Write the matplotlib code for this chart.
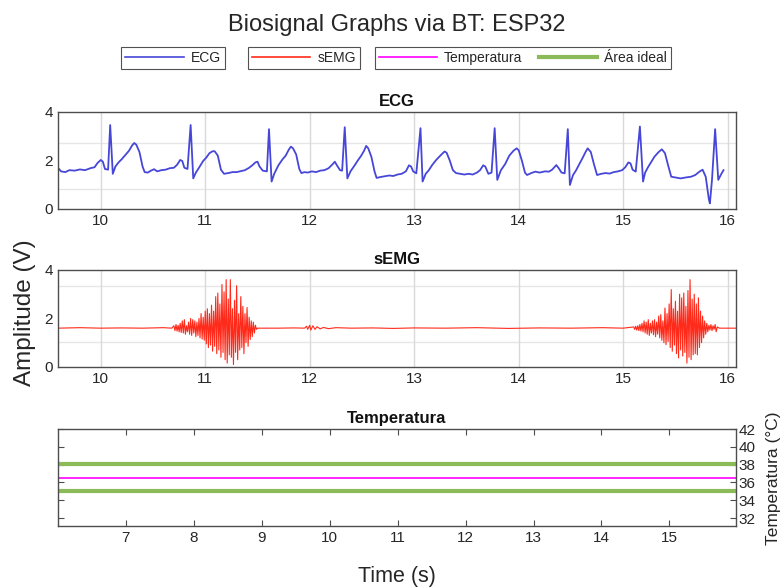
import matplotlib
matplotlib.use("Agg")
import matplotlib.pyplot as plt

plt.rcParams['font.family'] = ['Liberation Sans', 'DejaVu Sans']

# ECG signal (s, V)
ecg_t = [9.59, 9.62, 9.66, 9.70, 9.75, 9.80, 9.85, 9.90, 9.94, 9.97, 10.00, 10.02, 10.04, 10.07, 10.09,
         10.115, 10.14, 10.17, 10.20, 10.23, 10.27, 10.30, 10.32, 10.34, 10.37, 10.40, 10.42, 10.45, 10.48,
         10.51, 10.54, 10.58, 10.62, 10.66, 10.70, 10.73, 10.76, 10.78, 10.80, 10.83, 10.86, 10.885, 10.91,
         10.94, 10.98, 11.01, 11.04, 11.07, 11.09, 11.12, 11.15, 11.18, 11.22, 11.26, 11.30, 11.34, 11.38,
         11.42, 11.45, 11.48, 11.50, 11.52, 11.55, 11.59, 11.61, 11.635, 11.66, 11.70, 11.74, 11.77, 11.80,
         11.82, 11.84, 11.87, 11.90, 11.92, 11.95, 11.98, 12.02, 12.06, 12.10, 12.14, 12.18, 12.22, 12.24,
         12.26, 12.29, 12.31, 12.335, 12.36, 12.39, 12.43, 12.46, 12.49, 12.52, 12.54, 12.56, 12.59, 12.62,
         12.64, 12.68, 12.72, 12.76, 12.80, 12.84, 12.88, 12.92, 12.95, 12.97, 12.99, 13.02, 13.06, 13.08,
         13.11, 13.14, 13.17, 13.21, 13.25, 13.29, 13.31, 13.34, 13.37, 13.40, 13.44, 13.48, 13.52, 13.56,
         13.60, 13.63, 13.66, 13.68, 13.71, 13.74, 13.77, 13.795, 13.83, 13.87, 13.91, 13.95, 13.98, 14.00,
         14.03, 14.06, 14.08, 14.12, 14.16, 14.20, 14.25, 14.29, 14.32, 14.36, 14.38, 14.41, 14.44, 14.47,
         14.49, 14.52, 14.55, 14.58, 14.61, 14.64, 14.66, 14.69, 14.72, 14.75, 14.79, 14.83, 14.87, 14.91,
         14.95, 14.99, 15.02, 15.05, 15.07, 15.09, 15.12, 15.16, 15.19, 15.21, 15.24, 15.27, 15.30, 15.34,
         15.37, 15.40, 15.43, 15.46, 15.50, 15.55, 15.60, 15.65, 15.69, 15.73, 15.76, 15.79, 15.82, 15.83,
         15.85, 15.88, 15.91, 15.94, 15.96]
ecg_v = [1.70, 1.55, 1.52, 1.60, 1.58, 1.63, 1.60, 1.68, 1.72, 1.90, 2.02, 1.95, 1.65, 1.62, 3.46,
         1.45, 1.75, 1.92, 2.05, 2.20, 2.40, 2.62, 2.72, 2.65, 2.35, 1.75, 1.52, 1.50, 1.58,
         1.64, 1.55, 1.60, 1.62, 1.68, 1.70, 1.82, 2.02, 1.98, 1.70, 1.65, 3.46, 1.26, 1.50,
         1.70, 1.98, 2.12, 2.30, 2.38, 2.38, 2.20, 1.62, 1.45, 1.48, 1.52, 1.52, 1.56, 1.60,
         1.70, 1.80, 1.92, 1.95, 1.75, 1.58, 1.55, 3.29, 1.13, 1.45, 1.80, 2.05, 2.20, 2.45,
         2.57, 2.50, 2.25, 1.65, 1.48, 1.52, 1.50, 1.55, 1.52, 1.58, 1.60, 1.68, 1.85, 1.95,
         1.80, 1.60, 1.58, 3.37, 1.26, 1.55, 1.80, 2.00, 2.18, 2.40, 2.60, 2.50, 2.15, 1.55,
         1.28, 1.32, 1.35, 1.38, 1.36, 1.42, 1.45, 1.55, 1.80, 1.75, 1.55, 1.47, 3.33, 1.13,
         1.45, 1.60, 1.80, 2.02, 2.20, 2.37, 2.32, 2.00, 1.60, 1.48, 1.45, 1.42, 1.45, 1.42,
         1.50, 1.60, 1.80, 1.75, 1.45, 1.50, 3.33, 1.20, 1.60, 1.85, 2.20, 2.40, 2.50, 2.42,
         2.00, 1.50, 1.40, 1.48, 1.54, 1.50, 1.55, 1.54, 1.62, 1.81, 1.70, 1.50, 1.47, 3.29,
         0.99, 1.40, 1.60, 1.85, 2.09, 2.35, 2.50, 2.35, 1.85, 1.40, 1.45, 1.48, 1.46, 1.52,
         1.55, 1.60, 1.72, 1.92, 1.88, 1.62, 1.54, 3.40, 1.13, 1.50, 1.74, 1.95, 2.16, 2.35,
         2.46, 2.30, 1.80, 1.33, 1.30, 1.26, 1.30, 1.33, 1.40, 1.54, 1.62, 1.33, 0.40, 0.23,
         1.20, 3.29, 1.20, 1.45, 1.60]

# sEMG signal (s, V)
emg_t = [9.59, 9.80, 10.00, 10.20, 10.40, 10.60, 10.68,
         10.70, 10.71, 10.72, 10.73, 10.74, 10.75, 10.76, 10.77, 10.78, 10.79, 10.80, 10.81, 10.82, 10.83,
         10.84, 10.85, 10.86, 10.87, 10.88, 10.89, 10.90, 10.91, 10.92, 10.93, 10.94, 10.95, 10.96, 10.97,
         10.98, 10.99, 11.00, 11.01, 11.02, 11.03, 11.04, 11.05, 11.06, 11.07, 11.08, 11.09, 11.10, 11.11,
         11.12, 11.13, 11.14, 11.15, 11.16, 11.17, 11.18, 11.19, 11.20, 11.21, 11.22, 11.23, 11.24, 11.25,
         11.26, 11.27, 11.28, 11.29, 11.30, 11.31, 11.32, 11.33, 11.34, 11.35, 11.36, 11.37, 11.38, 11.39,
         11.40, 11.41, 11.42, 11.43, 11.44, 11.45, 11.46, 11.47, 11.48, 11.49, 11.50,
         11.55, 11.70, 11.85, 11.95, 11.97, 11.98, 12.00, 12.01, 12.03, 12.05, 12.07, 12.10, 12.13, 12.18,
         12.25, 12.40, 12.60, 12.80, 13.00, 13.30, 13.60, 13.90, 14.20, 14.50, 14.80, 15.00,
         15.10, 15.11, 15.12, 15.13, 15.14, 15.15, 15.16, 15.17, 15.18, 15.19, 15.20, 15.21, 15.22, 15.23,
         15.24, 15.25, 15.26, 15.27, 15.28, 15.29, 15.30, 15.31, 15.32, 15.33, 15.34, 15.35, 15.36, 15.37,
         15.38, 15.39, 15.40, 15.41, 15.42, 15.43, 15.44, 15.45, 15.46, 15.47, 15.48, 15.49, 15.50, 15.51,
         15.52, 15.53, 15.54, 15.55, 15.56, 15.57, 15.58, 15.59, 15.60, 15.61, 15.62, 15.63, 15.64, 15.65,
         15.66, 15.67, 15.68, 15.69, 15.70, 15.71, 15.72, 15.73, 15.74, 15.75, 15.76, 15.77, 15.78, 15.79,
         15.80, 15.81, 15.82, 15.83, 15.84, 15.85, 15.86, 15.87, 15.88, 15.89, 15.90, 15.92, 16.08]
emg_v = [1.60, 1.62, 1.60, 1.61, 1.60, 1.62, 1.60,
         1.70, 1.50, 1.75, 1.48, 1.72, 1.45, 1.80, 1.42, 1.90, 1.40, 1.95, 1.35, 1.70, 1.45,
         1.85, 1.35, 2.00, 1.30, 1.95, 1.40, 1.90, 1.25, 1.85, 1.30, 2.00, 1.20, 2.20, 1.15,
         2.05, 1.10, 2.30, 0.95, 2.40, 0.80, 2.20, 0.90, 2.55, 0.65, 2.30, 0.85, 2.90, 0.55,
         3.05, 0.70, 2.60, 0.40, 3.40, 0.60, 3.10, 0.30, 3.60, 0.16, 2.80, 0.50, 3.60, 0.40,
         2.40, 0.10, 2.75, 0.60, 3.35, 0.30, 2.20, 0.70, 2.90, 0.80, 2.50, 0.55, 2.20, 1.00,
         2.45, 0.85, 2.05, 1.13, 1.90, 1.25, 1.85, 1.40, 1.72, 1.55, 1.60,
         1.60, 1.60, 1.61, 1.60, 1.68, 1.55, 1.72, 1.52, 1.70, 1.55, 1.66, 1.57, 1.63, 1.58,
         1.62, 1.60, 1.61, 1.59, 1.61, 1.60, 1.62, 1.59, 1.61, 1.60, 1.62, 1.60,
         1.65, 1.55, 1.68, 1.52, 1.70, 1.50, 1.75, 1.48, 1.80, 1.45, 1.90, 1.40, 1.85, 1.35,
         1.95, 1.30, 1.80, 1.40, 1.90, 1.33, 1.95, 1.25, 1.85, 1.35, 2.10, 1.20, 2.16, 1.10,
         1.90, 1.00, 2.43, 0.92, 2.20, 1.05, 2.60, 0.80, 3.19, 0.65, 2.40, 0.90, 2.71, 0.55,
         2.30, 0.37, 3.00, 0.70, 2.85, 0.45, 3.05, 0.60, 2.50, 0.16, 3.15, 0.40, 3.60, 0.30,
         2.80, 0.50, 3.00, 0.55, 2.60, 0.50, 2.85, 0.80, 2.30, 1.00, 2.10, 1.20, 1.90, 1.35,
         1.80, 1.45, 1.72, 1.52, 1.75, 1.50, 1.70, 1.55, 1.75, 1.45, 1.65, 1.60, 1.60]

# temperature and ideal band (degC)
temp_t = [6.0, 16.0]
temp_v = [36.5, 36.5]
ideal_low = [35.0, 35.0]
ideal_high = [38.1, 38.1]

txt = '#262626'
frame = '#4d4d4d'

fig = plt.figure(figsize=(7.83, 5.88), dpi=100)

def style_axes(ax):
    for s in ax.spines.values():
        s.set_color(frame)
        s.set_linewidth(1.0)
    ax.tick_params(labelsize=11, colors=txt, direction='in', length=4, color=frame)

# ECG
ax1 = fig.add_axes([0.074, 0.6446, 0.866, 0.165])
ecg_line, = ax1.plot(ecg_t, ecg_v, color='#4646d8', lw=1.3)
ax1.set_xlim(9.59, 16.08)
ax1.set_ylim(0, 4)
ax1.set_yticks([0, 2, 4])
ax1.set_xticks(range(10, 17))
style_axes(ax1)
ax1.tick_params(length=0)
ax1.grid(True, axis='x', color='#d9d9d9', lw=1.0)
for y in [2.72, 0.82]:
    ax1.axhline(y, color='#e6e6e6', lw=1.0, zorder=0)
ax1.set_title('ECG', fontsize=12, fontweight='bold', color='#111111', pad=4)

# sEMG
ax2 = fig.add_axes([0.074, 0.3759, 0.866, 0.165])
emg_line, = ax2.plot(emg_t, emg_v, color='#ff2a1a', lw=0.8)
ax2.set_xlim(9.59, 16.08)
ax2.set_ylim(0, 4)
ax2.set_yticks([0, 2, 4])
ax2.set_xticks(range(10, 17))
style_axes(ax2)
ax2.tick_params(length=0)
ax2.grid(True, axis='x', color='#d9d9d9', lw=1.0)
for y in [3.34, 1.03]:
    ax2.axhline(y, color='#e6e6e6', lw=1.0, zorder=0)
ax2.set_title('sEMG', fontsize=12, fontweight='bold', color='#111111', pad=4)

# Temperatura
ax3 = fig.add_axes([0.074, 0.1054, 0.866, 0.165])
green = '#8abb58'
ideal_line, = ax3.plot(temp_t, ideal_low, color=green, lw=3.0)
ax3.plot(temp_t, ideal_high, color=green, lw=3.0)
temp_line, = ax3.plot(temp_t, temp_v, color='#ff00ff', lw=1.2)
ax3.set_xlim(6.0, 15.98)
ax3.set_ylim(31.1, 42)
ax3.set_xticks(range(7, 16))
ax3.set_yticks(range(32, 43, 2))
style_axes(ax3)
ax3.tick_params(axis='x', top=True, bottom=True)
ax3.tick_params(axis='y', left=True, right=True, labelleft=False, labelright=True, pad=2)
ax3.set_title('Temperatura', fontsize=12, fontweight='bold', color='#111111', pad=4)
fig.text(0.988, 0.187, 'Temperatura (°C)', rotation=90, ha='center', va='center',
         fontsize=12.5, color=txt)

fig.text(0.032, 0.469, 'Amplitude (V)', rotation=90, ha='center', va='center', fontsize=17.5, color=txt)
fig.text(0.507, 0.019, 'Time (s)', ha='center', va='center', fontsize=15.5, color=txt)
fig.text(0.507, 0.958, 'Biosignal Graphs via BT: ESP32', ha='center', va='center', fontsize=17, color=txt)

leg_kw = dict(loc='center', fontsize=10, frameon=True, fancybox=False, handlelength=4.2,
              borderpad=0.3, handletextpad=0.5, labelcolor=txt)
for handles, labels, x, nc in [([ecg_line], ['ECG'], 0.221, 1),
                               ([emg_line], ['sEMG'], 0.388, 1),
                               ([temp_line, ideal_line], ['Temperatura', 'Área ideal'], 0.668, 2)]:
    lg = fig.legend(handles, labels, bbox_to_anchor=(x, 0.901), ncol=nc, columnspacing=1.2, **leg_kw)
    lg.get_frame().set_edgecolor(txt)
    lg.get_frame().set_linewidth(0.8)
    for h in lg.legend_handles:
        if h.get_color() == green:
            h.set_linewidth(3)
        else:
            h.set_linewidth(1.2)

fig.savefig('out.png', dpi=100)
